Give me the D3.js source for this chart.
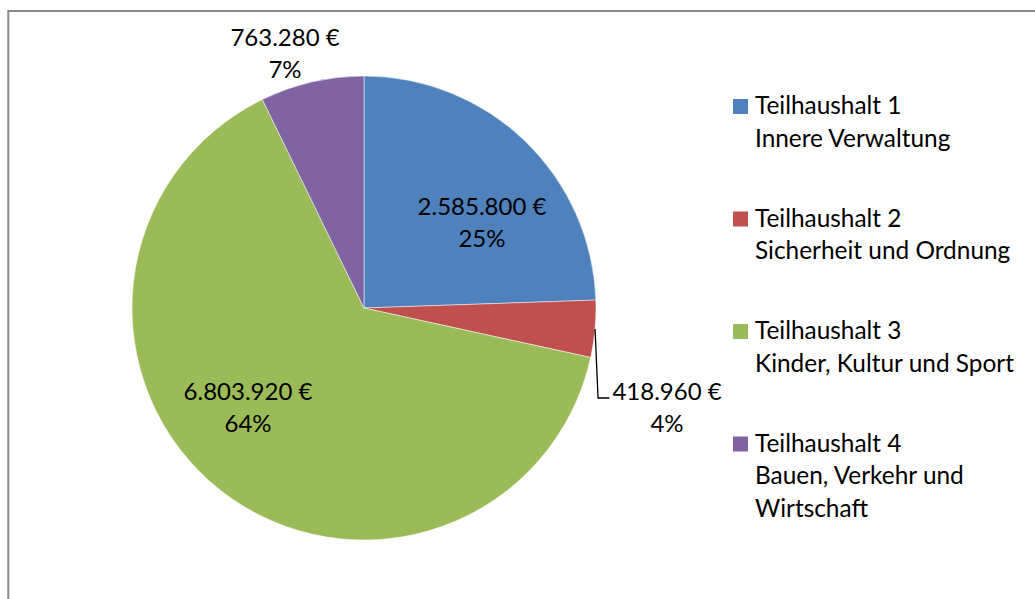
<!DOCTYPE html>
<html>
<head>
<meta charset="utf-8">
<script src="https://cdn.jsdelivr.net/npm/d3@7"></script>
<style>
  html, body { margin: 0; padding: 0; background: #fff; }
  svg { display: block; }
  text { font-family: Lato, "Open Sans", sans-serif; fill: #000; }
</style>
</head>
<body>
<svg id="chart" width="1035" height="599"></svg>
<script>
// ---- data ----
const categories = ["Teilhaushalt 1", "Teilhaushalt 2", "Teilhaushalt 3", "Teilhaushalt 4"];
const descriptions = [["Innere Verwaltung"], ["Sicherheit und Ordnung"], ["Kinder, Kultur und Sport"], ["Bauen, Verkehr und", "Wirtschaft"]];
const values = [2585800, 418960, 6803920, 763280];
const percentLabels = ["25%", "4%", "64%", "7%"];
const colors = ["#4F81BD", "#C0504D", "#9BBB59", "#8064A2"];

// ---- layout ----
const W = 1035, H = 599;
const cx = 364, cy = 308, R = 232;
const fontSize = 24, legendFontSize = 24.4, lineGap = 32.5;
// label block anchor offsets (relative to pie center), Excel best-fit placement
const labelOffsets = [[118, -85], [303, 100], [-116, 100], [-79, -254]];
const leader = [false, true, false, false];

const svg = d3.select("#chart");

// frame
svg.append("rect")
  .attr("x", 8.3).attr("y", 11)
  .attr("width", W + 20).attr("height", H + 20)
  .attr("fill", "none").attr("stroke", "#8a8a8a").attr("stroke-width", 2);

const pie = d3.pie().sort(null).value(d => d);
const arcs = pie(values);
const arc = d3.arc().innerRadius(0).outerRadius(R);

const g = svg.append("g").attr("transform", `translate(${cx},${cy})`);

g.selectAll("path.slice").data(arcs).enter().append("path")
  .attr("class", "slice")
  .attr("d", arc)
  .attr("fill", (d, i) => colors[i])
  .attr("stroke", "#fff").attr("stroke-width", 0.5);

const euro = v => d3.formatLocale({decimal: ",", thousands: ".", grouping: [3], currency: ["", " €"]}).format("$,.0f")(v);

// labels
arcs.forEach((d, i) => {
  const [ox, oy] = labelOffsets[i];
  const t = g.append("text").attr("text-anchor", "middle").style("font-size", fontSize + "px");
  t.append("tspan").attr("x", ox).attr("y", oy - lineGap / 2 + 8).text(euro(values[i]));
  t.append("tspan").attr("x", ox).attr("y", oy + lineGap / 2 + 8).text(percentLabels[i]);
  if (leader[i]) {
    const mid = (d.startAngle + d.endAngle) / 2;
    const sx = R * Math.sin(mid), sy = -R * Math.cos(mid);
    const bbox = t.node().getBBox();
    const ex = bbox.x - 3;
    const ey = oy - 10;
    g.append("polyline")
      .attr("points", [[sx, sy], [sx + 3, ey], [ex, ey]].map(p => p.join(",")).join(" "))
      .attr("fill", "none").attr("stroke", "#000").attr("stroke-width", 1.3);
  }
});

// legend
const legX = 733, legTextX = 755, legY0 = 114, legStep = 112.5, sq = 15;
categories.forEach((c, i) => {
  const by = legY0 + i * legStep;
  svg.append("rect").attr("x", legX).attr("y", by - 15).attr("width", sq).attr("height", sq)
    .attr("fill", colors[i]);
  const lines = [c].concat(descriptions[i]);
  lines.forEach((ln, j) => {
    svg.append("text").attr("x", legTextX).attr("y", by + j * lineGap)
      .style("font-size", legendFontSize + "px").text(ln);
  });
});
</script>
</body>
</html>
